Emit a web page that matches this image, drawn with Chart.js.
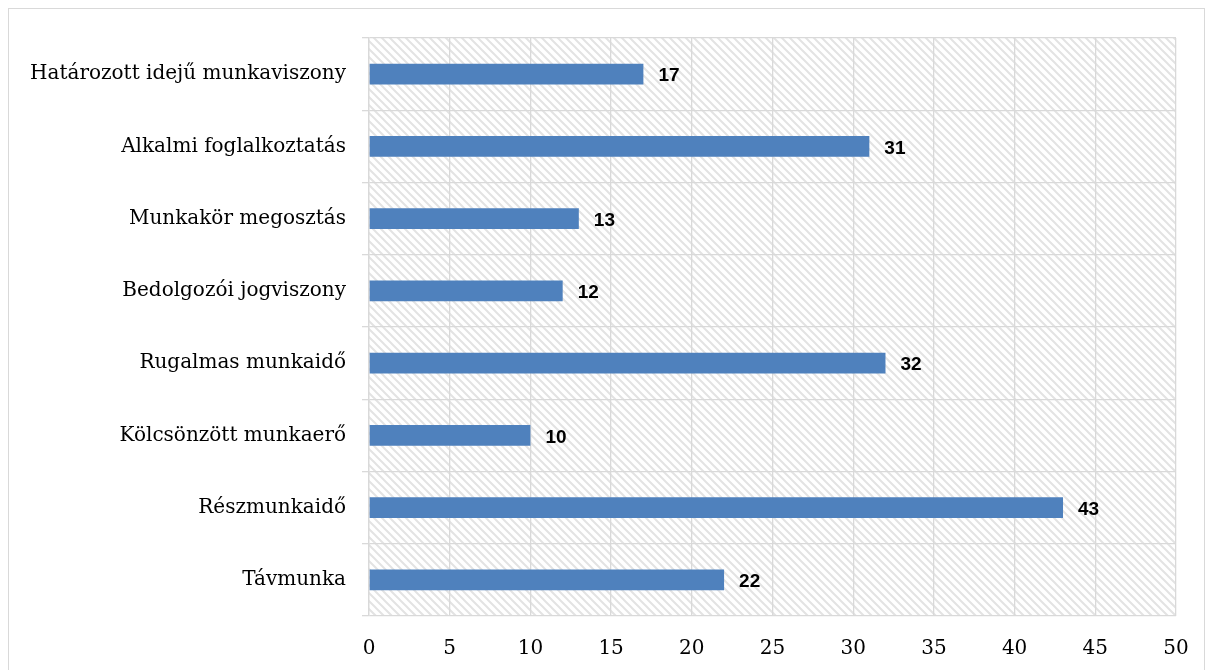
<!DOCTYPE html>
<html><head><meta charset="utf-8">
<script src="https://cdn.jsdelivr.net/npm/chart.js@4/dist/chart.umd.min.js"></script>
<style>
html,body{margin:0;padding:0;background:#fff;}
#frame{position:absolute;left:8px;top:8px;width:1197px;height:700px;border:1px solid #d9d9d9;box-sizing:border-box;}
#wrap{position:absolute;left:0;top:0;width:1214px;height:670px;}
</style></head>
<body>
<div id="frame"></div>
<div id="wrap"><canvas id="c" width="1214" height="670"></canvas></div>
<script>
const categories = ["Határozott idejű munkaviszony","Alkalmi foglalkoztatás","Munkakör megosztás","Bedolgozói jogviszony","Rugalmas munkaidő","Kölcsönzött munkaerő","Részmunkaidő","Távmunka"];
const values = [17,31,13,12,32,10,43,22];
const xTicks = [0,5,10,15,20,25,30,35,40,45,50];

function makeHatch(){
  const s = 8;
  const p = document.createElement('canvas');
  p.width = s; p.height = s;
  const g = p.getContext('2d');
  g.fillStyle = '#ffffff'; g.fillRect(0,0,s,s);
  g.strokeStyle = '#e3e3e3'; g.lineWidth = 2;
  g.beginPath();
  g.moveTo(-1,-1); g.lineTo(s+1,s+1);
  g.moveTo(-1,s-1); g.lineTo(1,s+1);
  g.moveTo(s-1,-1); g.lineTo(s+1,1);
  g.stroke();
  return p;
}

const hatchPlugin = {
  id:'hatch',
  beforeDraw(chart){
    const {ctx, chartArea:a} = chart;
    ctx.save();
    ctx.fillStyle = ctx.createPattern(makeHatch(),'repeat');
    ctx.fillRect(a.left,a.top,a.right-a.left,a.bottom-a.top);
    ctx.restore();
  }
};
const labelPlugin = {
  id:'vlabels',
  afterDatasetsDraw(chart){
    const {ctx} = chart;
    const meta = chart.getDatasetMeta(0);
    ctx.save();
    ctx.font = 'bold 19px "Liberation Sans", Arial, sans-serif';
    ctx.fillStyle = '#000';
    ctx.textAlign = 'left';
    ctx.textBaseline = 'middle';
    meta.data.forEach((bar,i)=>{
      ctx.fillText(String(values[i]), bar.x + 15, bar.y + 2);
    });
    ctx.restore();
  }
};

new Chart(document.getElementById('c'),{
  type:'bar',
  data:{labels:categories,datasets:[{data:values,backgroundColor:'#4f81bd',borderWidth:0,categoryPercentage:1,barPercentage:0.285}]},
  options:{
    indexAxis:'y',
    responsive:false,
    animation:false,
    layout:{padding:{top:38,right:38,left:0,bottom:0}},
    plugins:{legend:{display:false},tooltip:{enabled:false}},
    scales:{
      x:{
        min:0,max:50,
        afterBuildTicks(s){ s.ticks = xTicks.map(v=>({value:v})); },
        afterFit(s){ s.height = 54; },
        grid:{color:'#d9d9d9',lineWidth:1.3,drawTicks:false},
        border:{display:false},
        ticks:{padding:21,color:'#000',font:{family:'"DejaVu Serif", serif',size:20}}
      },
      y:{
        afterFit(s){ s.width = 369; },
        grid:{offset:true,color:'#d9d9d9',lineWidth:1.3,tickLength:7,drawTicks:true},
        border:{display:true,color:'#d9d9d9',width:1.3},
        ticks:{padding:16,color:'#000',font:{family:'"DejaVu Serif", serif',size:20}}
      }
    }
  },
  plugins:[hatchPlugin,labelPlugin]
});
</script>
</body></html>
